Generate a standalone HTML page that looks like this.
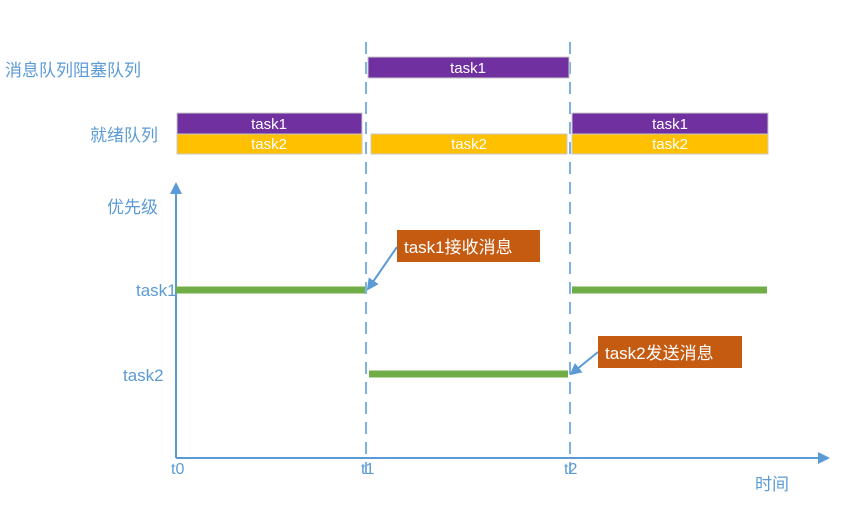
<!DOCTYPE html>
<html><head><meta charset="utf-8"><style>
body{margin:0;background:#fff}
text{font-family:"Liberation Sans","Noto Sans CJK SC",sans-serif}
</style></head><body>
<svg width="847" height="513" xmlns="http://www.w3.org/2000/svg">
<defs>
<marker id="ar" markerWidth="12" markerHeight="12" refX="10" refY="6" orient="auto" markerUnits="userSpaceOnUse"><path d="M0,0 L12,6 L0,12 z" fill="#5b9bd5"/></marker>
</defs>
<g stroke="#7fb2e0" stroke-width="2" stroke-dasharray="12,8">
<line x1="366" y1="42" x2="366" y2="476"/>
<line x1="570" y1="42" x2="570" y2="476"/>
</g>
<g stroke="#c9c9c9" stroke-width="1">
<rect x="368" y="57" width="201" height="21" fill="#7030a0"/>
<rect x="177" y="113" width="185" height="21" fill="#7030a0"/>
<rect x="177" y="134" width="185" height="20" fill="#ffc000"/>
<rect x="371" y="134" width="196" height="20" fill="#ffc000"/>
<rect x="572" y="113" width="196" height="21" fill="#7030a0"/>
<rect x="572" y="134" width="196" height="20" fill="#ffc000"/>
</g>
<g fill="#fff" font-size="15" text-anchor="middle">
<text x="468" y="73">task1</text>
<text x="269" y="129">task1</text>
<text x="269" y="149">task2</text>
<text x="469" y="149">task2</text>
<text x="670" y="129">task1</text>
<text x="670" y="149">task2</text>
</g>
<g fill="#5b9bd5" font-size="17">
<text x="5" y="76">消息队列阻塞队列</text>
<text x="90" y="141">就绪队列</text>
<text x="107" y="213">优先级</text>
<text x="136" y="296" font-size="17">task1</text>
<text x="123" y="381" font-size="17">task2</text>
<text x="171" y="474" font-size="16">t0</text>
<text x="361" y="474" font-size="16">t1</text>
<text x="564" y="474" font-size="16">t2</text>
<text x="755" y="490">时间</text>
</g>
<g stroke="#5b9bd5" stroke-width="2">
<line x1="176" y1="458" x2="176" y2="184" marker-end="url(#ar)"/>
<line x1="176" y1="458" x2="828" y2="458" marker-end="url(#ar)"/>
<line x1="397" y1="247" x2="368" y2="289" marker-end="url(#ar)"/>
<line x1="598" y1="352" x2="571" y2="374" marker-end="url(#ar)"/>
</g>
<g stroke="#70ad47" stroke-width="7">
<line x1="176" y1="290" x2="365" y2="290"/>
<line x1="572" y1="290" x2="767" y2="290"/>
<line x1="369" y1="374" x2="568" y2="374"/>
</g>
<rect x="397" y="230" width="143" height="32" fill="#c55a11"/>
<rect x="598" y="336" width="144" height="32" fill="#c55a11"/>
<g fill="#fff" font-size="17">
<text x="404" y="253">task1接收消息</text>
<text x="605" y="359">task2发送消息</text>
</g>
</svg>
</body></html>
